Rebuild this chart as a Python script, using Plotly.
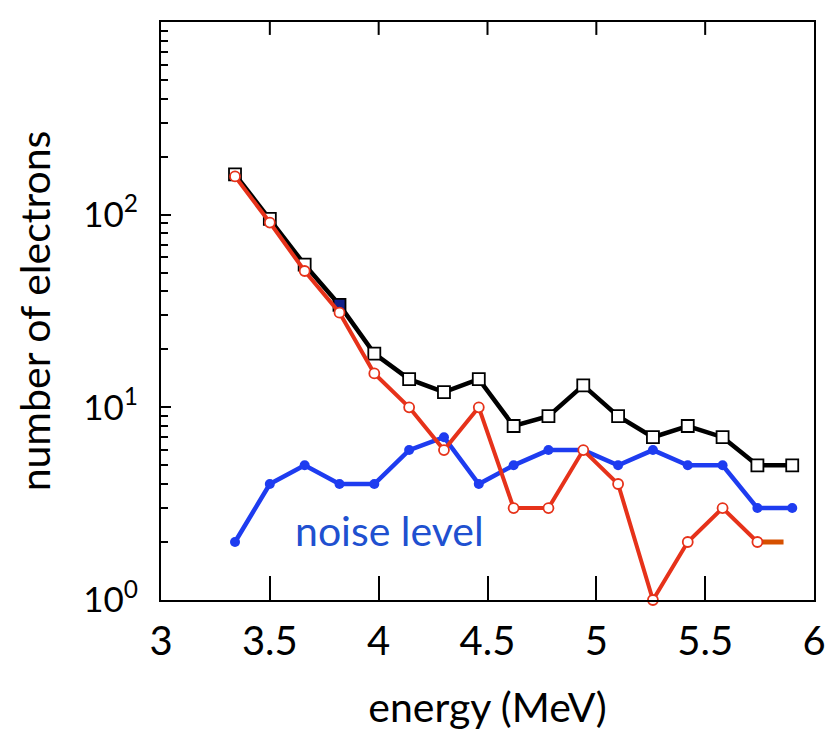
import plotly.graph_objects as go

energy = [3.34, 3.50, 3.66, 3.82, 3.98, 4.14, 4.30, 4.46, 4.62, 4.78,
          4.94, 5.10, 5.26, 5.42, 5.58, 5.74, 5.90]
total = [162, 95, 55, 34, 19, 14, 12, 14, 8, 9, 13, 9, 7, 8, 7, 5, 5]
signal = [158, 91, 51, 31, 15, 10, 6, 10, 3, 3, 6, 4, 1, 2, 3, 2]
signal_tail_x = [5.74, 5.86]
signal_tail = [2, 2]
noise = [2, 4, 5, 4, 4, 6, 7, 4, 5, 6, 6, 5, 6, 5, 5, 3, 3]

xticks = [3, 3.5, 4, 4.5, 5, 5.5, 6]
xticktext = ["3", "3.5", "4", "4.5", "5", "5.5", "6"]
yticks = [1, 10, 100, 1000]
yticktext = ["10<sup>0</sup>", "10<sup>1</sup>", "10<sup>2</sup>", "10<sup>3</sup>"]

FONT = "Lato, 'Open Sans', sans-serif"
RED = "#e6321a"
BLUE = "#1e3cf0"

PLOT_H = 735 - 20 - 134

fig = go.Figure()

sq_fill = ["white"] * len(total)
sq_fill[3] = "#10208a"
fig.add_trace(go.Scatter(
    x=energy, y=total, mode="lines+markers",
    line=dict(color="black", width=4.5),
    marker=dict(symbol="square", size=12, color=sq_fill,
                line=dict(color="black", width=1.8)),
    showlegend=False))

fig.add_trace(go.Scatter(
    x=energy, y=noise, mode="lines+markers",
    line=dict(color=BLUE, width=4.5),
    marker=dict(symbol="circle", size=10, color=BLUE),
    showlegend=False))

fig.add_trace(go.Scatter(
    x=signal_tail_x, y=signal_tail, mode="lines",
    line=dict(color="#d65000", width=5),
    showlegend=False))

fig.add_trace(go.Scatter(
    x=energy[:len(signal)], y=signal, mode="lines+markers",
    line=dict(color=RED, width=4),
    marker=dict(symbol="circle", size=10, color="white",
                line=dict(color=RED, width=1.8)),
    showlegend=False, cliponaxis=False))

fig.add_annotation(x=4.05, y=0.36, xref="x", yref="y", text="noise level",
                   showarrow=False, font=dict(family=FONT, size=41, color="#2050d0"))

# short tick marks along the top frame
for v in xticks[1:-1]:
    fig.add_shape(type="line", xref="x", yref="paper", x0=v, x1=v,
                  y0=1 - 13 / PLOT_H, y1=1, line=dict(color="black", width=2), layer="above")

fig.update_layout(
    width=830, height=727,
    margin=dict(l=153, r=19, t=12, b=134),
    plot_bgcolor="white", paper_bgcolor="white",
    font=dict(family=FONT, size=40, color="black"),
    xaxis=dict(range=[3, 6], tickvals=xticks, ticktext=xticktext,
               ticks="inside", ticklen=24, tickwidth=2, tickcolor="black",
               showline=True, linecolor="black", linewidth=2, mirror=True,
               showgrid=False, zeroline=False, ticklabelstandoff=5,
               tickfont=dict(family=FONT, size=40),
               title=dict(text="energy (MeV)", font=dict(family=FONT, size=41), standoff=30)),
    yaxis=dict(type="log", range=[0, 3], tickvals=yticks, ticktext=yticktext,
               ticks="inside", ticklen=10, tickwidth=2, tickcolor="black",
               minor=dict(ticks="inside", ticklen=7, tickcolor="black", tickwidth=2,
                          dtick="D1", showgrid=False),
               showline=True, linecolor="black", linewidth=2, mirror=True,
               showgrid=False, zeroline=False, ticklabelstandoff=14,
               tickfont=dict(family=FONT, size=35),
               title=dict(text="number of electrons", font=dict(family=FONT, size=41), standoff=20)),
)

fig.write_html("out.html")
